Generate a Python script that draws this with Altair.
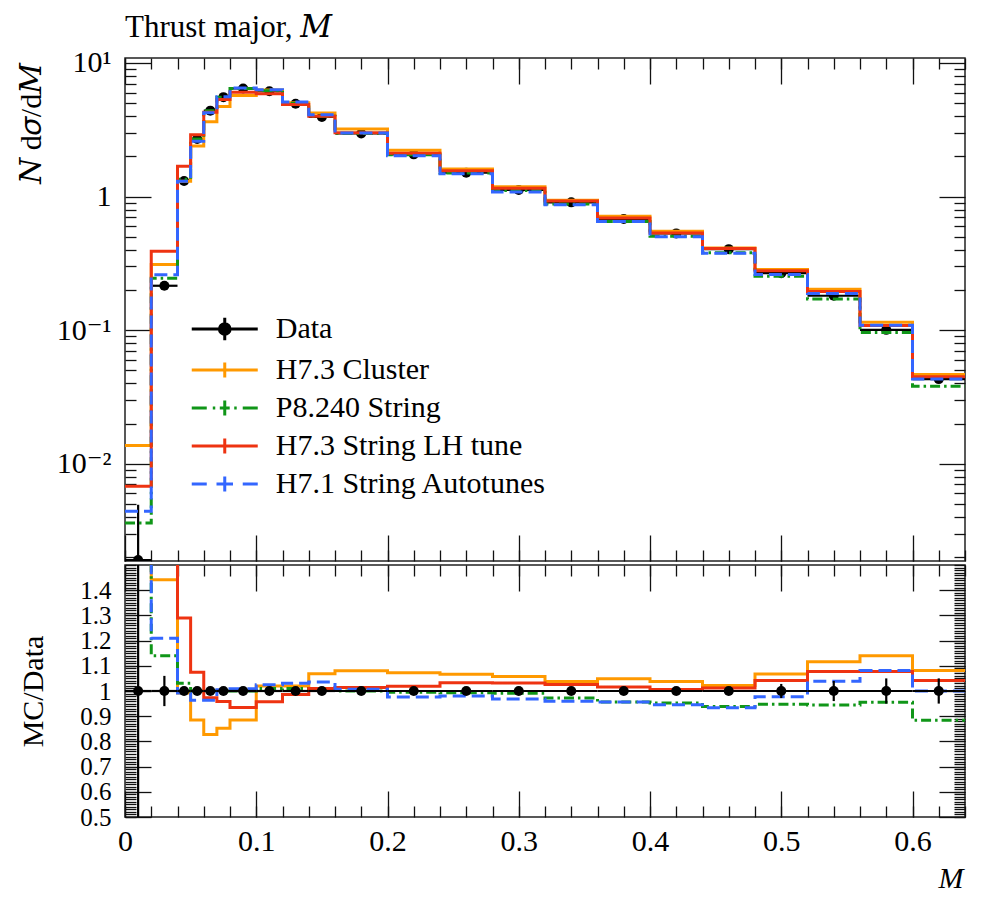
import altair as alt
import pandas as pd

# ---------------- data ----------------
bin_edges = [0.0, 0.02, 0.04, 0.05, 0.06, 0.07, 0.08, 0.10, 0.12, 0.14, 0.16,
             0.20, 0.24, 0.28, 0.32, 0.36, 0.40, 0.44, 0.48, 0.52, 0.56, 0.60, 0.64]

data_values = [0.0019, 0.215, 1.31, 2.70, 4.40, 5.55, 6.45, 6.15, 4.95, 3.95, 2.97,
               2.07, 1.51, 1.12, 0.905, 0.68, 0.53, 0.404, 0.267, 0.181, 0.1005, 0.043]
data_rel_err = [1.6, 0.06, 0.01, 0.008, 0.006, 0.006, 0.005, 0.005, 0.005, 0.006, 0.006,
                0.006, 0.007, 0.008, 0.009, 0.010, 0.012, 0.016, 0.028, 0.040, 0.050, 0.050]

h73_cluster = [0.0137, 0.310, 1.30, 2.39, 3.64, 4.73, 5.71, 6.27, 5.05, 4.22, 3.21,
               2.22, 1.61, 1.185, 0.939, 0.713, 0.550, 0.413, 0.285, 0.202, 0.1146, 0.0465]
p8240_string = [0.0036, 0.245, 1.35, 2.70, 4.40, 5.55, 6.45, 6.21, 5.00, 3.99, 2.97,
                2.06, 1.50, 1.11, 0.880, 0.650, 0.505, 0.379, 0.253, 0.171, 0.0960, 0.0380]
h73_string_lh = [0.00678, 0.389, 1.69, 2.90, 4.28, 5.32, 6.03, 5.89, 4.88, 3.99, 3.01,
                 2.11, 1.56, 1.156, 0.928, 0.691, 0.533, 0.409, 0.278, 0.195, 0.1083, 0.0448]
h71_autotunes = [0.0044, 0.260, 1.30, 2.60, 4.24, 5.58, 6.51, 6.30, 5.10, 4.09, 2.99,
                 2.02, 1.48, 1.084, 0.868, 0.650, 0.501, 0.377, 0.261, 0.188, 0.1087, 0.043]

series_names = ["Data", "H7.3 Cluster", "P8.240 String", "H7.3 String LH tune",
                "H7.1 String Autotunes"]
series_colors = ["#000000", "#FF9900", "#109618", "#EE3311", "#3366FF"]
series_dashes = [[1, 0], [1, 0], [10, 4, 2.5, 4], [1, 0], [13, 6]]
mc_series = [("H7.3 Cluster", h73_cluster), ("P8.240 String", p8240_string),
             ("H7.3 String LH tune", h73_string_lh), ("H7.1 String Autotunes", h71_autotunes)]

# ---------------- tables ----------------
def step_df(name, vals):
    rows = []
    for i, v in enumerate(vals):
        rows.append({"series": name, "x": bin_edges[i], "y": v, "r": v / data_values[i]})
    rows.append({"series": name, "x": bin_edges[-1], "y": vals[-1],
                 "r": vals[-1] / data_values[-1]})
    return pd.DataFrame(rows)

data_df = pd.DataFrame({
    "lo": bin_edges[:-1],
    "hi": bin_edges[1:],
    "xc": [(a + b) / 2 for a, b in zip(bin_edges[:-1], bin_edges[1:])],
    "y": data_values,
    "ylo": [max(v * (1 - e), 1e-5) for v, e in zip(data_values, data_rel_err)],
    "yhi": [v * (1 + e) for v, e in zip(data_values, data_rel_err)],
    "r": [1.0] * len(data_values),
    "rlo": [1 - e for e in data_rel_err],
    "rhi": [1 + e for e in data_rel_err],
})
legend_df = pd.DataFrame({"series": series_names, "x": [0.3] * 5, "y": [1.0] * 5})

# ---------------- styling ----------------
FONT = "Liberation Serif, DejaVu Serif"
FS = 30
MAJ, MIN = 26, 11
W, H_TOP, H_RAT = 840, 503, 252
LW = 3

x_major = [round(0.1 * i, 1) for i in range(7)]
x_minor = [round(0.02 * i, 2) for i in range(33)]
y_log_major = [0.01, 0.1, 1.0, 10.0]
y_log_minor = [k * 10.0 ** e for e in (-3, -2, -1, 0) for k in range(2, 10) if k * 10.0 ** e > 0.00187]
y_rat_major = [round(0.5 + 0.1 * i, 1) for i in range(10)]
y_rat_minor = [round(0.5 + 0.01 * i, 2) for i in range(101)]

x_scale = alt.Scale(domain=[0, 0.64], nice=False, zero=False)
y_log_scale = alt.Scale(type="log", domain=[0.00187, 10.9], nice=False)
y_rat_scale = alt.Scale(domain=[0.5, 1.5], nice=False, zero=False)
color_scale = alt.Scale(domain=series_names, range=series_colors)
dash_scale = alt.Scale(domain=series_names, range=series_dashes)

# legend symbols (drawn in symbol units; 1 unit = 8.25 px)
PATH_DATA = ("M-4,0L4,0M0,-1.35L0,1.35M-0.65,0A0.65,0.65,0,1,0,0.65,0"
             "A0.65,0.65,0,1,0,-0.65,0Z")
PATH_SOLID = "M-4,0L4,0M0,-0.9L0,0.9"
PATH_DASHDOT = ("M-4,0L-2.18,0M-1.45,0L-1.15,0M-0.6,0L0.6,0M0,-0.9L0,0.9"
                "M1.15,0L1.45,0M2.18,0L4,0")
PATH_DASHED = "M-4,0L-2.18,0M-1,0L1,0M0,-0.9L0,0.9M2.18,0L4,0"
shape_scale = alt.Scale(domain=series_names,
                        range=[PATH_DATA, PATH_SOLID, PATH_DASHDOT, PATH_SOLID, PATH_DASHED])


def ax(orient, values, size, **kw):
    base = dict(orient=orient, values=values, tickSize=size, offset=-size, domain=False,
                grid=False, ticks=True, tickColor="#111", tickWidth=1.3,
                labelOverlap=False, labelFlush=False, labelBound=False)
    if "labels" not in kw:
        base["labels"] = False
    if "title" not in kw:
        base["title"] = None
    base.update(kw)
    return alt.Axis(**base)


legend = alt.Legend(
    orient="none", legendX=84.75, legendY=256, title=None,
    labelFont=FONT, labelFontSize=FS, labelColor="black", labelLimit=600,
    labelOffset=36, rowPadding=8, padding=0, symbolSize=272.25,
    symbolStrokeWidth=LW, symbolOpacity=1,
)

top_x_axes = [
    ax("bottom", x_major, MAJ),
    ax("bottom", x_minor, MIN),
    ax("top", x_major, MAJ),
    ax("top", x_minor, MIN),
]
top_y_axes = [
    ax("left", y_log_major, MAJ, labels=True, labelPadding=14,
       labelExpr="datum.value > 5 ? '10¹' : datum.value > 0.5 ? '1' : datum.value > 0.05 ? '10⁻¹' : '10⁻²'",
       title="𝑁 d𝜎/d𝑀", titleX=-120, titleY=65, titleAngle=270, titleAlign="center",
       titleBaseline="middle"),
    ax("left", y_log_minor, MIN),
    ax("right", y_log_major, MAJ),
    ax("right", y_log_minor, MIN),
]
rat_x_axes = [
    ax("bottom", x_major, MAJ, labels=True, labelPadding=9,
       labelExpr="format(datum.value, '.1~f')",
       title="M", titleFontStyle="italic", titleX=838, titleY=87, titleAlign="right",
       titleBaseline="middle"),
    ax("bottom", x_minor, MIN),
    ax("top", x_major, MAJ),
    ax("top", x_minor, MIN),
]
rat_y_axes = [
    ax("left", y_rat_major, MAJ, labels=True, labelPadding=14, labelFontSize=25,
       labelExpr="format(datum.value, '.1~f')",
       title="MC/Data", titleX=-118, titleY=126, titleAngle=270, titleAlign="center",
       titleBaseline="middle"),
    ax("left", y_rat_minor, MIN),
    ax("right", y_rat_major, MAJ),
    ax("right", y_rat_minor, MIN),
]


def mc_layers(field, yscale, xaxes, yaxes):
    layers = []
    for i, (name, vals) in enumerate(mc_series):
        layers.append(
            alt.Chart(step_df(name, vals)).mark_line(
                interpolate="step-after", strokeWidth=LW, clip=True
            ).encode(
                x=alt.X("x:Q", scale=x_scale, axis=xaxes[i]),
                y=alt.Y(f"{field}:Q", scale=yscale, axis=yaxes[i]),
                color=alt.Color("series:N", scale=color_scale, legend=None),
                strokeDash=alt.StrokeDash("series:N", scale=dash_scale, legend=None),
            )
        )
    return layers


def data_layers(yf, ylof, yhif, yscale):
    base = alt.Chart(data_df)
    xerr = base.mark_rule(color="black", strokeWidth=2.2, clip=True).encode(
        x=alt.X("lo:Q", scale=x_scale, axis=None), x2="hi:Q",
        y=alt.Y(f"{yf}:Q", scale=yscale, axis=None))
    yerr = base.mark_rule(color="black", strokeWidth=2.2, clip=True).encode(
        x=alt.X("xc:Q", scale=x_scale, axis=None),
        y=alt.Y(f"{ylof}:Q", scale=yscale, axis=None), y2=f"{yhif}:Q")
    pts = base.mark_point(filled=True, color="black", size=100, opacity=1, clip=True).encode(
        x=alt.X("xc:Q", scale=x_scale, axis=None),
        y=alt.Y(f"{yf}:Q", scale=yscale, axis=None))
    return [xerr, yerr, pts]


legend_layer = alt.Chart(legend_df).transform_filter("datum.x < 0").mark_point(
    filled=True, strokeWidth=LW, size=272.25, opacity=1
).encode(
    x=alt.X("x:Q", scale=x_scale, axis=None),
    y=alt.Y("y:Q", scale=y_log_scale, axis=None),
    color=alt.Color("series:N", scale=color_scale, legend=legend),
    stroke=alt.Stroke("series:N", scale=color_scale, legend=legend),
    shape=alt.Shape("series:N", scale=shape_scale, legend=legend),
)

top = alt.layer(
    *data_layers("y", "ylo", "yhi", y_log_scale),
    *mc_layers("y", y_log_scale, top_x_axes, top_y_axes),
    legend_layer,
).resolve_axis(x="independent", y="independent").properties(
    width=W, height=H_TOP,
    title=alt.TitleParams("Thrust major, 𝑀", anchor="start", frame="group", font=FONT,
                          fontSize=31, fontWeight="normal", color="black",
                          baseline="alphabetic", offset=-20.5),
)

ratio = alt.layer(
    *mc_layers("r", y_rat_scale, rat_x_axes, rat_y_axes),
    *data_layers("r", "rlo", "rhi", y_rat_scale),
).resolve_axis(x="independent", y="independent").properties(width=W, height=H_RAT)

chart = alt.vconcat(top, ratio, spacing=0).resolve_scale(
    color="independent", strokeDash="independent"
).properties(
    padding={"left": 7, "top": 3, "right": 5, "bottom": 5}
).configure_view(
    stroke="#222", strokeWidth=1.5
).configure_axis(
    labelFont=FONT, labelFontSize=FS, labelColor="black",
    titleFont=FONT, titleFontSize=FS, titleFontWeight="normal", titleColor="black",
)

chart.save("out.html", embed_options={"renderer": "svg", "actions": False})
